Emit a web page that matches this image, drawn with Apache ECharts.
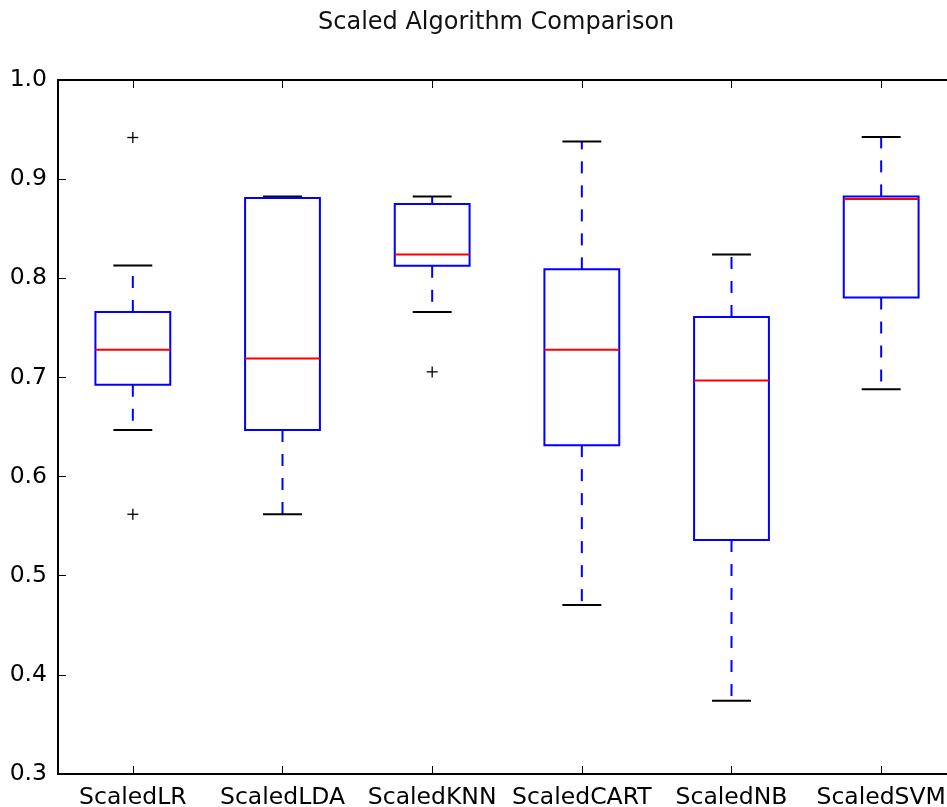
<!DOCTYPE html>
<html>
<head>
<meta charset="utf-8">
<script src="https://cdn.jsdelivr.net/npm/echarts@6/dist/echarts.min.js"></script>
<style>
html,body{margin:0;padding:0;background:#fff;overflow:hidden;}
#chart{width:947px;height:807px;}
</style>
</head>
<body>
<div id="chart"></div>
<script>
const titleText = 'Scaled Algorithm Comparison';
const categories = ['ScaledLR', 'ScaledLDA', 'ScaledKNN', 'ScaledCART', 'ScaledNB', 'ScaledSVM'];
const whiskerLow  = [0.647, 0.562, 0.766, 0.4705, 0.374, 0.688];
const q1          = [0.6926, 0.647, 0.8126, 0.6317, 0.536, 0.7806];
const median      = [0.728, 0.719, 0.824, 0.728, 0.697, 0.880];
const q3          = [0.766, 0.881, 0.875, 0.809, 0.761, 0.8826];
const whiskerHigh = [0.8129, 0.8825, 0.8825, 0.938, 0.824, 0.9425];
const outliers = [[0, 0.942], [0, 0.562], [2, 0.7056]];
const yTicks = [0.3, 0.4, 0.5, 0.6, 0.7, 0.8, 0.9, 1.0];

const boxData = categories.map((c, i) => [i, whiskerLow[i], q1[i], median[i], q3[i], whiskerHigh[i]]);

const chart = echarts.init(document.getElementById('chart'), null, {renderer: 'canvas'});
const FONT = 'DejaVu Sans';

function renderBox(params, api) {
  const idx = api.value(0);
  const band = api.size([1, 0])[0];
  const half = band * 0.25;
  const capHalf = band * 0.13;
  const pLow = api.coord([idx, api.value(1)]);
  const pQ1 = api.coord([idx, api.value(2)]);
  const pMed = api.coord([idx, api.value(3)]);
  const pQ3 = api.coord([idx, api.value(4)]);
  const pHigh = api.coord([idx, api.value(5)]);
  const x = pQ1[0];
  const blue = '#0000ff';
  const whiskerStyle = {stroke: blue, lineWidth: 2, lineDash: [12, 12], fill: null};
  const capStyle = {stroke: '#000', lineWidth: 2, fill: null};
  return {
    type: 'group',
    children: [
      {type: 'line', shape: {x1: x, y1: pQ1[1], x2: x, y2: pLow[1]}, style: whiskerStyle},
      {type: 'line', shape: {x1: x, y1: pQ3[1], x2: x, y2: pHigh[1]}, style: whiskerStyle},
      {type: 'line', shape: {x1: x - capHalf, y1: pLow[1], x2: x + capHalf, y2: pLow[1]}, style: capStyle},
      {type: 'line', shape: {x1: x - capHalf, y1: pHigh[1], x2: x + capHalf, y2: pHigh[1]}, style: capStyle},
      {type: 'rect', shape: {x: x - half, y: pQ3[1], width: half * 2, height: pQ1[1] - pQ3[1]},
        style: {stroke: blue, lineWidth: 2, fill: null}},
      {type: 'line', shape: {x1: x - half, y1: pMed[1], x2: x + half, y2: pMed[1]},
        style: {stroke: '#ff0000', lineWidth: 2, fill: null}}
    ]
  };
}

function renderOutlier(params, api) {
  const p = api.coord([api.value(0), api.value(1)]);
  const s = 5.5;
  const st = {stroke: '#000', lineWidth: 1.3, fill: null};
  return {
    type: 'group',
    children: [
      {type: 'line', shape: {x1: p[0] - s, y1: p[1], x2: p[0] + s, y2: p[1]}, style: st},
      {type: 'line', shape: {x1: p[0], y1: p[1] - s, x2: p[0], y2: p[1] + s}, style: st}
    ]
  };
}

const axisLineStyle = {color: '#000', width: 2};

chart.setOption({
  animation: false,
  backgroundColor: '#fff',
  title: {
    text: titleText,
    left: 313,
    top: 6,
    textStyle: {fontFamily: FONT, fontSize: 24, fontWeight: 'normal', color: '#111'}
  },
  grid: {left: 58, width: 898, top: 80, height: 694, show: false, containLabel: false, outerBoundsMode: 'none'},
  xAxis: [
    {
      type: 'category', data: categories, position: 'bottom',
      axisLine: {show: true, lineStyle: axisLineStyle, onZero: false},
      axisTick: {show: true, inside: true, length: 8, alignWithLabel: true, lineStyle: {color: '#000', width: 1}},
      axisLabel: {fontFamily: FONT, fontSize: 23.5, color: '#000', margin: 12, interval: 0, hideOverlap: false},
      splitLine: {show: false}
    },
    {
      type: 'category', data: categories, position: 'top',
      axisLine: {show: true, lineStyle: axisLineStyle, onZero: false},
      axisTick: {show: true, inside: true, length: 8, alignWithLabel: true, lineStyle: {color: '#000', width: 1}},
      axisLabel: {show: false},
      splitLine: {show: false}
    }
  ],
  yAxis: [
    {
      type: 'value', min: 0.3, max: 1.0, interval: 0.1, position: 'left',
      axisLine: {show: true, lineStyle: axisLineStyle, onZero: false},
      axisTick: {show: true, inside: true, length: 8, lineStyle: {color: '#000', width: 1}},
      axisLabel: {fontFamily: FONT, fontSize: 23.5, color: '#000', margin: 11,
        formatter: v => v.toFixed(1)},
      splitLine: {show: false}
    },
    {
      type: 'value', min: 0.3, max: 1.0, interval: 0.1, position: 'right',
      axisLine: {show: true, lineStyle: axisLineStyle, onZero: false},
      axisTick: {show: true, inside: true, length: 8, lineStyle: {color: '#000', width: 1}},
      axisLabel: {show: false},
      splitLine: {show: false}
    }
  ],
  series: [
    {
      type: 'custom', xAxisIndex: 0, yAxisIndex: 0,
      renderItem: renderBox,
      encode: {x: 0, y: [1, 2, 3, 4, 5]},
      data: boxData,
      clip: false
    },
    {
      type: 'custom', xAxisIndex: 0, yAxisIndex: 0,
      renderItem: renderOutlier,
      encode: {x: 0, y: 1},
      data: outliers,
      clip: false
    }
  ]
});
</script>
</body>
</html>
